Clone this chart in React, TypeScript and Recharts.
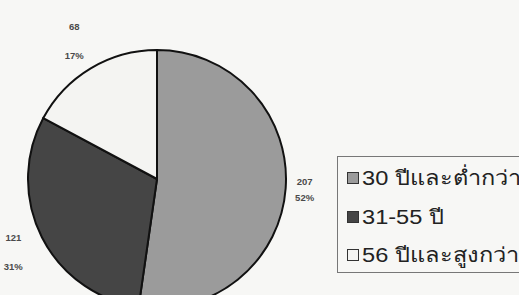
import React from 'react';
import { PieChart, Pie, Cell, Legend } from 'recharts';

const categories = ['30 ปีและต่ำกว่า', '31-55 ปี', '56 ปีและสูงกว่า'];
const counts = [207, 121, 68];
const fills = ['#9b9b9b', '#454545', '#f4f4f2'];

const data = categories.map((name, i) => ({ name, value: counts[i] }));

const RAD = Math.PI / 180;

const renderLabel = (props: any) => {
  const { cx, cy, midAngle, outerRadius, value, percent } = props;
  const right = Math.cos(-midAngle * RAD) > 0;
  const r = outerRadius + (right ? 19 : 32);
  const x = cx + r * Math.cos(-midAngle * RAD);
  const y = cy + r * Math.sin(-midAngle * RAD);
  const gap = right ? 16 : 29;
  const style = { fontFamily: 'Liberation Sans, Arial, sans-serif', fontSize: 9.5, fontWeight: 700, fill: '#4a4a4a' };
  return (
    <g>
      <text x={x} y={y - gap / 2} textAnchor="middle" dominantBaseline="central" style={style}>
        {value}
      </text>
      <text x={x} y={y + gap / 2} textAnchor="middle" dominantBaseline="central" style={style}>
        {`${Math.round(percent * 100)}%`}
      </text>
    </g>
  );
};

const LegendBox = () => (
  <div
    style={{
      border: '1px solid #777',
      width: 230,
      height: 117,
      boxSizing: 'border-box',
      padding: '1px 0 0 9px',
      background: '#f7f7f5',
    }}
  >
    {categories.map((c, i) => (
      <div
        key={c}
        style={{
          display: 'flex',
          alignItems: 'center',
          height: i === 0 ? 40 : 38,
          fontFamily: 'Liberation Sans, Arial, sans-serif',
          fontSize: 20,
          color: '#222',
          whiteSpace: 'nowrap',
        }}
      >
        <span
          style={{
            display: 'inline-block',
            width: 10,
            height: 10,
            border: '1px solid #333',
            background: fills[i],
            marginRight: 3,
          }}
        />
        <span style={{ display: 'inline-block', transform: 'scaleX(1.18)', transformOrigin: 'left center' }}>{c}</span>
      </div>
    ))}
  </div>
);

export default function App() {
  return (
    <div style={{ position: 'absolute', left: 0, top: 0, width: 519, height: 295, overflow: 'hidden', background: '#f7f7f5' }}>
      <PieChart width={519} height={295}>
        <Pie
          data={data}
          dataKey="value"
          nameKey="name"
          cx={152}
          cy={174}
          outerRadius={129}
          startAngle={90}
          endAngle={-270}
          stroke="#111"
          strokeWidth={2}
          label={renderLabel}
          labelLine={false}
          isAnimationActive={false}
        >
          {data.map((entry, index) => (
            <Cell key={`cell-${index}`} fill={fills[index]} />
          ))}
        </Pie>
        <Legend
          content={() => <LegendBox />}
          wrapperStyle={{ position: 'absolute', left: 337, top: 156, width: 230 }}
        />
      </PieChart>
    </div>
  );
}
